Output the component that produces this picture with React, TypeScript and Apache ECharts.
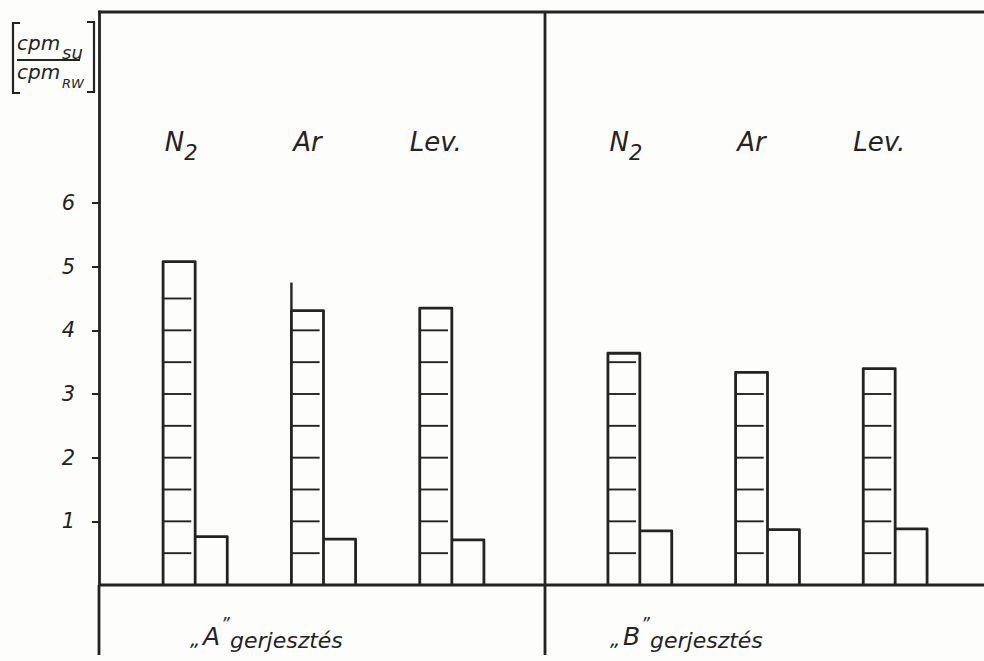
import React, { useEffect, useRef } from "react";
import * as echarts from "echarts";

// ---- data ----
const gases = ["N₂", "Ar", "Lev."];
const excitationLetters = ["A", "B"];
const excitationWord = "gerjesztés";
const ratioA = [5.08, 4.31, 4.35]; // tall (hatched) bars, "A" excitation
const smallA = [0.76, 0.72, 0.71]; // short bars, "A" excitation
const ratioB = [3.64, 3.34, 3.4]; // tall (hatched) bars, "B" excitation
const smallB = [0.85, 0.87, 0.88]; // short bars, "B" excitation
const edgeA = [null, 4.75, null]; // over-drawn left edge of a bar
const edgeB = [null, null, null];
const yTickValues = [1, 2, 3, 4, 5, 6];
const yMin = 0;
const yMax = 9;
const hatchStep = 0.5;

const INK = "#232323";
const FONT = "'DejaVu Sans', 'Liberation Sans', sans-serif";

function buildData(big: number[], small: number[], edge: (number | null)[]) {
  return big.map((v, i) => [i, v, small[i], edge[i] == null ? NaN : edge[i]]);
}

function renderPair(params: any, api: any) {
  const i = api.value(0);
  const big = api.value(1);
  const small = api.value(2);
  const edge = api.value(3);
  const base = api.coord([i, 0]);
  const band = api.size([1, 0])[0];
  const w = band * 0.25;
  const cx = base[0];
  const y0 = base[1];
  const yBig = api.coord([i, big])[1];
  const ySmall = api.coord([i, small])[1];
  const lineStyle = { stroke: INK, lineWidth: 2.8, fill: null, lineJoin: "round" };
  const children: any[] = [];
  children.push({
    type: "polyline",
    shape: { points: [[cx - w, y0], [cx - w, yBig], [cx, yBig], [cx, y0]] },
    style: lineStyle,
  });
  children.push({
    type: "polyline",
    shape: { points: [[cx, ySmall], [cx + w, ySmall], [cx + w, y0]] },
    style: lineStyle,
  });
  for (let k = 1; k * hatchStep < big - 0.1; k++) {
    const y = api.coord([i, k * hatchStep])[1];
    children.push({
      type: "line",
      shape: { x1: cx - w, y1: y, x2: cx - w * 0.12, y2: y },
      style: { stroke: INK, lineWidth: 1.9 },
    });
  }
  if (isFinite(edge)) {
    const ye = api.coord([i, edge])[1];
    children.push({
      type: "line",
      shape: { x1: cx - w, y1: yBig, x2: cx - w, y2: ye },
      style: { stroke: INK, lineWidth: 2.4 },
    });
  }
  // gas label above the pair
  const name: string = gases[i];
  const labelX = cx - w / 2;
  const labelY = params.coordSys.y + 130;
  const m = name.match(/^(.*?)([₀-₉])$/);
  if (m) {
    const sub = String("₀₁₂₃₄₅₆₇₈₉".indexOf(m[2]));
    children.push({
      type: "text",
      style: { text: m[1], x: labelX + 5, y: labelY, align: "right", verticalAlign: "middle", font: `italic 26px ${FONT}`, fill: INK },
    });
    children.push({
      type: "text",
      style: { text: sub, x: labelX + 5, y: labelY + 11, align: "left", verticalAlign: "middle", font: `italic 21px ${FONT}`, fill: INK },
    });
  } else {
    children.push({
      type: "text",
      style: { text: name, x: labelX, y: labelY, align: "center", verticalAlign: "middle", font: `italic 26px ${FONT}`, fill: INK },
    });
  }
  return { type: "group", children };
}

function excitationLabel(startX: number, letter: string) {
  return [
    { type: "text", style: { text: "„", x: startX, y: 639, verticalAlign: "middle", font: `italic 20px ${FONT}`, fill: INK } },
    { type: "text", style: { text: letter, x: startX + 13, y: 636, verticalAlign: "middle", font: `italic 25px ${FONT}`, fill: INK } },
    { type: "text", style: { text: "”", x: startX + 31, y: 624, verticalAlign: "middle", font: `italic 17px ${FONT}`, fill: INK } },
    { type: "text", style: { text: excitationWord, x: startX + 40, y: 640, verticalAlign: "middle", font: `italic 22px ${FONT}`, fill: INK } },
  ];
}

export default function App() {
  const ref = useRef<HTMLDivElement>(null);
  useEffect(() => {
    if (!ref.current) return;
    const chart = echarts.init(ref.current, null, { renderer: "svg" });
    const frame = { stroke: INK, lineWidth: 2.8 };
    const option: any = {
      animation: false,
      backgroundColor: "#fdfdfb",
      grid: [
        { left: 131, top: 12, width: 385, height: 573, containLabel: false, outerBoundsMode: "none" },
        { left: 576, top: 12, width: 383, height: 573, containLabel: false, outerBoundsMode: "none" },
      ],
      xAxis: [
        { type: "category", gridIndex: 0, data: gases, axisLine: { show: false }, axisTick: { show: false }, axisLabel: { show: false } },
        { type: "category", gridIndex: 1, data: gases, axisLine: { show: false }, axisTick: { show: false }, axisLabel: { show: false } },
      ],
      yAxis: [
        {
          type: "value",
          gridIndex: 0,
          min: yMin,
          max: yMax,
          interval: 1,
          offset: 32,
          axisLine: { show: true, lineStyle: { color: INK, width: 2.8 } },
          axisTick: { show: true, customValues: yTickValues, length: 7, lineStyle: { color: INK, width: 2 } },
          axisLabel: { show: true, customValues: yTickValues, margin: 24, fontSize: 21, fontStyle: "italic", fontFamily: FONT, color: INK },
          splitLine: { show: false },
        },
        { type: "value", gridIndex: 1, min: yMin, max: yMax, interval: 1, show: false, splitLine: { show: false } },
      ],
      series: [
        { type: "custom", name: excitationLetters[0], xAxisIndex: 0, yAxisIndex: 0, data: buildData(ratioA, smallA, edgeA), encode: { x: 0, y: 1 }, renderItem: renderPair, clip: false },
        { type: "custom", name: excitationLetters[1], xAxisIndex: 1, yAxisIndex: 1, data: buildData(ratioB, smallB, edgeB), encode: { x: 0, y: 1 }, renderItem: renderPair, clip: false },
      ],
      graphic: [
        { type: "line", shape: { x1: 98, y1: 12, x2: 984, y2: 12 }, style: frame },
        { type: "line", shape: { x1: 99, y1: 585, x2: 99, y2: 655 }, style: frame },
        { type: "line", shape: { x1: 545, y1: 12, x2: 545, y2: 655 }, style: frame },
        { type: "line", shape: { x1: 99, y1: 585, x2: 984, y2: 585 }, style: frame },
        // y-axis unit label [cpm_su / cpm_RW]
        { type: "polyline", shape: { points: [[20, 23], [13, 23], [13, 93], [20, 93]] }, style: { stroke: INK, lineWidth: 2.2, fill: null } },
        { type: "polyline", shape: { points: [[87, 22], [94, 22], [94, 92], [87, 92]] }, style: { stroke: INK, lineWidth: 2.2, fill: null } },
        { type: "text", style: { text: "cpm", x: 17, y: 43, verticalAlign: "middle", font: `italic 20px ${FONT}`, fill: INK } },
        { type: "text", style: { text: "su", x: 62, y: 52, verticalAlign: "middle", font: `italic 18px ${FONT}`, fill: INK } },
        { type: "line", shape: { x1: 17, y1: 60, x2: 80, y2: 60 }, style: { stroke: INK, lineWidth: 2.2 } },
        { type: "text", style: { text: "cpm", x: 17, y: 72, verticalAlign: "middle", font: `italic 20px ${FONT}`, fill: INK } },
        { type: "text", style: { text: "RW", x: 62, y: 83, verticalAlign: "middle", font: `italic 13px ${FONT}`, fill: INK } },
        ...excitationLabel(190, excitationLetters[0]),
        ...excitationLabel(610, excitationLetters[1]),
      ],
    };
    chart.setOption(option);
    return () => chart.dispose();
  }, []);
  return (
    <div
      ref={ref}
      style={{ position: "fixed", left: 0, top: 0, width: 984, height: 661, background: "#fdfdfb" }}
    />
  );
}
